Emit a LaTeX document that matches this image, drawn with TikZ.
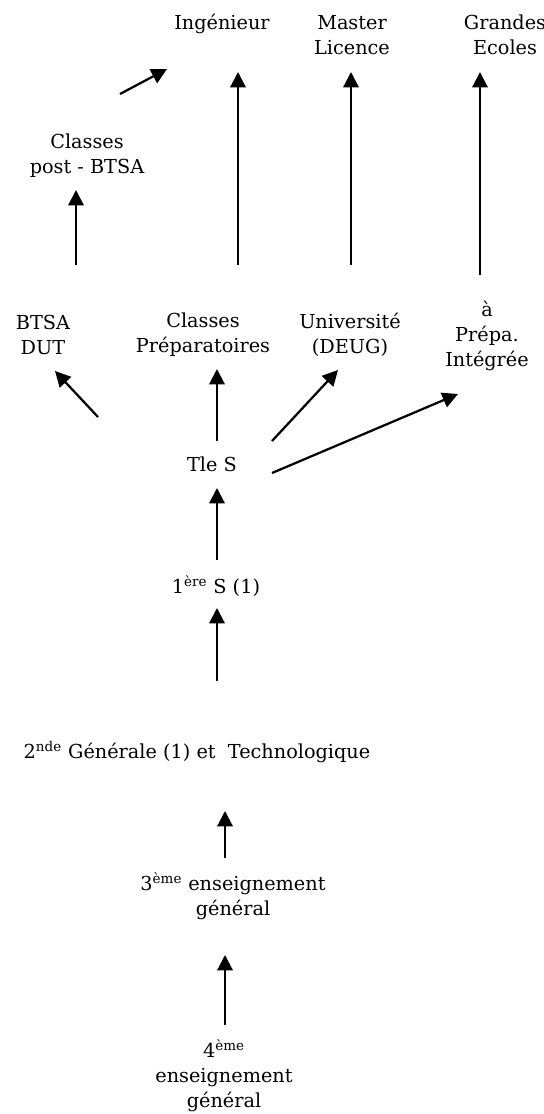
\documentclass[tikz,border=0pt]{standalone}
\usepackage{fontspec}
\setmainfont{DejaVu Serif}
\usetikzlibrary{arrows.meta}

\begin{document}
\begin{tikzpicture}[x=0.025cm, y=-0.025cm,
    lbl/.style={align=center, inner sep=0pt, font=\fontsize{13.7}{17.8}\selectfont},
    arr/.style={-{Triangle[length=11pt, width=11pt]}, line width=1.6pt}]
    \useasboundingbox (0,0) rectangle (544,1114);
    \begin{scope}
        \node[lbl] (ing) at (222,24) {Ingénieur};
        \node[lbl] (master) at (352,35) {Master\\Licence};
        \node[lbl] (grandes) at (505,35) {Grandes\\Ecoles};
        \node[lbl] (postbtsa) at (87,156) {Classes\\post - BTSA};
    \end{scope}
    \begin{scope}
        \node[lbl] (btsa) at (43,335) {BTSA\\DUT};
        \node[lbl] (prepa) at (203,335) {Classes\\Préparatoires};
        \node[lbl] (univ) at (350,335) {Université\\(DEUG)};
        \node[lbl] (integ) at (487,336) {à\\Prépa.\\Intégrée};
    \end{scope}
    \node[lbl] (tle) at (212,464) {Tle S};
    \node[lbl] (premiere) at (216,586) {1\textsuperscript{ère} S (1)};
    \node[lbl] (seconde) at (197,752) {2\textsuperscript{nde} Générale (1) et~ Technologique};
    \node[lbl] (troisieme) at (233,896) {3\textsuperscript{ème} enseignement\\général};
    \node[lbl] (quatrieme) at (224,1076) {4\textsuperscript{ème}\\enseignement\\général};
    \draw[arr] ([shift={(33,-62)}]postbtsa.center) -- ([shift={(-55,45)}]ing.center);
    \draw[arr] ([shift={(35,-70)}]prepa.center) -- ([shift={(16,48)}]ing.center);
    \draw[arr] ([shift={(1,-70)}]univ.center) -- ([shift={(-1,37)}]master.center);
    \draw[arr] ([shift={(-7,-61)}]integ.center) -- ([shift={(-25,37)}]grandes.center);
    \draw[arr] ([shift={(33,-70)}]btsa.center) -- ([shift={(-11,34)}]postbtsa.center);
    \draw[arr] ([shift={(-114,-47)}]tle.center) -- ([shift={(12,36)}]btsa.center);
    \draw[arr] ([shift={(5,-23)}]tle.center) -- ([shift={(14,34)}]prepa.center);
    \draw[arr] ([shift={(60,-23)}]tle.center) -- ([shift={(-12,35)}]univ.center);
    \draw[arr] ([shift={(60,9)}]tle.center) -- ([shift={(-29,58)}]integ.center);
    \draw[arr] ([shift={(1,-26)}]premiere.center) -- ([shift={(5,24)}]tle.center);
    \draw[arr] ([shift={(20,-71)}]seconde.center) -- ([shift={(1,22)}]premiere.center);
    \draw[arr] ([shift={(-8,-38)}]troisieme.center) -- ([shift={(28,59)}]seconde.center);
    \draw[arr] ([shift={(1,-51)}]quatrieme.center) -- ([shift={(-8,59)}]troisieme.center);
\end{tikzpicture}
\end{document}
